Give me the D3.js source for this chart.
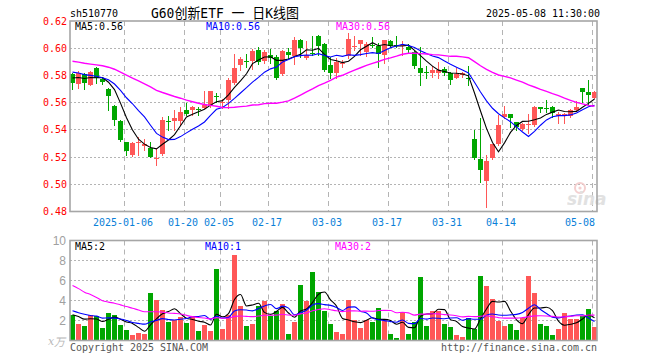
<!DOCTYPE html>
<html><head><meta charset="utf-8">
<script src="https://cdn.jsdelivr.net/npm/d3@7"></script>
<style>html,body{margin:0;padding:0;background:#fff}svg{display:block}</style>
</head><body>
<svg id="chart" width="660" height="360"></svg>
<script>
// ---------- data ----------
const dates = ["2024-12-23","2024-12-24","2024-12-25","2024-12-26","2024-12-27","2024-12-30","2024-12-31",
"2025-01-02","2025-01-03","2025-01-06","2025-01-07","2025-01-08","2025-01-09","2025-01-10",
"2025-01-13","2025-01-14","2025-01-15","2025-01-16","2025-01-17","2025-01-20","2025-01-21","2025-01-22","2025-01-23","2025-01-24","2025-01-27",
"2025-02-05","2025-02-06","2025-02-07","2025-02-10","2025-02-11","2025-02-12","2025-02-13","2025-02-14",
"2025-02-17","2025-02-18","2025-02-19","2025-02-20","2025-02-21","2025-02-24","2025-02-25","2025-02-26","2025-02-27","2025-02-28",
"2025-03-03","2025-03-04","2025-03-05","2025-03-06","2025-03-07","2025-03-10","2025-03-11","2025-03-12","2025-03-13","2025-03-14",
"2025-03-17","2025-03-18","2025-03-19","2025-03-20","2025-03-21","2025-03-24","2025-03-25","2025-03-26","2025-03-27","2025-03-28",
"2025-03-31","2025-04-01","2025-04-02","2025-04-03","2025-04-07","2025-04-08","2025-04-09","2025-04-10","2025-04-11",
"2025-04-14","2025-04-15","2025-04-16","2025-04-17","2025-04-18","2025-04-21","2025-04-22","2025-04-23","2025-04-24","2025-04-25",
"2025-04-28","2025-04-29","2025-04-30","2025-05-06","2025-05-07","2025-05-08"];

const open = [.5811,.5735,.5811,.5731,.5853,.5772,.5699,.5576,.5466,.5312,
.5216,.5305,.5282,.5270,.5189,.5221,.5468,.5466,.5466,.5547,
.5547,.5556,.5564,.5579,.5647,.5606,.5620,.5742,.5877,.5909,
.5907,.5988,.5909,.5951,.5934,.5811,.5970,.5940,.6061,.5926,
.5965,.6093,.6032,.5877,.5816,.5885,.5944,.6007,.6032,.5975,
.6026,.6017,.5951,.6054,.6026,.6022,.6012,.5975,.5858,.5823,
.5816,.5821,.5848,.5816,.5784,.5804,.5784,.5333,.5186,.5027,
.5191,.5294,.5492,.5514,.5460,.5407,.5439,.5436,.5566,.5561,
.5566,.5502,.5515,.5502,.5546,.5706,.5681,.5637];
const high = [.5816,.5829,.5821,.5829,.5860,.5784,.5706,.5584,.5473,.5314,
.5314,.5351,.5334,.5314,.5265,.5498,.5505,.5547,.5571,.5601,
.5576,.5571,.5686,.5686,.5669,.5625,.5779,.5958,.5934,.5958,
.5992,.6012,.5988,.5992,.5951,.5988,.6000,.6086,.6066,.6054,
.6091,.6098,.6037,.5939,.5926,.5914,.6110,.6091,.6061,.6049,
.6086,.6037,.6061,.6061,.6091,.6056,.6032,.5983,.6012,.5870,
.5870,.5902,.5865,.5828,.5853,.5828,.5870,.5399,.5485,.5216,
.5296,.5510,.5576,.5514,.5460,.5448,.5514,.5576,.5566,.5620,
.5576,.5534,.5522,.5551,.5613,.5706,.5767,.5686];
const low = [.5699,.5706,.5699,.5726,.5743,.5735,.5547,.5437,.5319,.5216,
.5211,.5216,.5253,.5199,.5143,.5216,.5400,.5400,.5437,.5510,
.5510,.5510,.5559,.5571,.5608,.5564,.5559,.5737,.5841,.5865,
.5845,.5885,.5890,.5890,.5772,.5804,.5926,.5882,.5939,.5921,
.5951,.5951,.5835,.5779,.5779,.5865,.5926,.5988,.5951,.5944,
.6012,.5865,.5894,.6007,.6012,.5951,.5975,.5853,.5730,.5779,
.5791,.5779,.5804,.5735,.5779,.5791,.5730,.5184,.5019,.4836,
.5184,.5289,.5485,.5424,.5399,.5399,.5375,.5429,.5534,.5534,
.5492,.5453,.5453,.5492,.5541,.5608,.5591,.5632];
const close = [.5743,.5821,.5743,.5824,.5784,.5750,.5650,.5473,.5326,.5245,
.5302,.5309,.5294,.5204,.5191,.5473,.5466,.5490,.5530,.5517,
.5571,.5554,.5584,.5682,.5645,.5608,.5767,.5858,.5921,.5907,
.5980,.5900,.5970,.5926,.5779,.5980,.5951,.6061,.6002,.5951,
.5963,.6017,.5841,.5816,.5902,.5894,.6068,.6017,.6061,.6032,
.6024,.5958,.6061,.6017,.6024,.6024,.5988,.5870,.5821,.5821,
.5841,.5841,.5821,.5767,.5809,.5816,.5772,.5191,.5105,.5171,
.5294,.5436,.5517,.5490,.5424,.5443,.5441,.5571,.5554,.5559,
.5527,.5517,.5517,.5546,.5571,.5681,.5657,.5681];
const volume = [2.57,1.63,1.50,2.57,2.47,1.30,2.77,2.57,1.57,1.07,
0.57,0.77,0.67,4.77,4.07,3.07,1.87,2.07,2.34,1.77,
2.47,0.97,1.57,0.97,7.17,1.17,2.60,8.57,3.47,1.47,
1.67,3.47,3.97,2.47,2.97,3.67,0.67,1.87,5.57,3.97,
6.87,4.87,2.97,1.67,0.87,0.67,4.07,2.07,1.27,2.07,
1.87,3.27,2.07,0.67,0.27,2.87,0.67,1.87,6.37,1.47,
2.97,2.97,1.67,1.37,0.57,0.37,2.27,1.17,6.47,5.47,
4.17,1.97,1.47,1.67,1.07,2.27,6.47,4.77,1.67,1.47,
0.57,1.17,2.77,2.17,2.17,2.47,3.17,1.37];
// estimated closes / volumes of the 29 sessions before the window (only used for the moving averages)
const priorCloses = [.600,.598,.602,.596,.594,.597,.592,.595,.593,.593,
.595,.592,.590,.594,.596,.591,.593,.590,.594,.592,
.589,.586,.588,.585,.586,.580,.578,.579,.579];
const priorVolumes = [11,12,10,11,11,7,6,6.5,6,6,5.5,6,5,4,4.5,4,3.5,4,6,6.3,
3.5,3.0,3.8,3.2,3.3,2.5,2.8,2.4,2.6];

const priceTicks = [0.62,0.60,0.58,0.56,0.54,0.52,0.50,0.48];
const volTicks = [10,8,6,4,2];
const dateTicks = ["2025-01-06","2025-01-20","2025-02-05","2025-02-17","2025-03-03","2025-03-17","2025-03-31","2025-04-14","2025-05-08"];
const dateTickLabels = ["2025-01-06","01-20","02-05","02-17","03-03","03-17","03-31","04-14","05-08"];
const maPeriods = [5,10,30];
const maColors = ["#000000","#0000ff","#ff00ff"];
const priceMaLabels = ["MA5:0.56","MA10:0.56","MA30:0.56"];
const volMaLabels = ["MA5:2","MA10:1","MA30:2"];
const symbol = "sh510770";
const title = "G60创新ETF 一 日K线图";
const stamp = "2025-05-08 11:30:00";

// ---------- setup ----------
const svg = d3.select("#chart");
const MONO = "'DejaVu Sans Mono','Liberation Mono','Noto Sans CJK SC',monospace";
const UP = "#ff5757", DOWN = "#00a600", GRID = "#b4b4b4", BORDER = "#a6a6a6";
const L = 70, R = 597;
const P = {top: 21, bottom: 211.5};
const V = {top: 240.5, bottom: 340.5};

const x = d3.scaleBand().domain(dates).range([L, R]).paddingInner(1/6).paddingOuter(0).align(0);
const y = d3.scaleLinear().domain([0.48, 0.62]).range([P.bottom, P.top]);
const vy = d3.scaleLinear().domain([0, 10]).range([V.bottom, V.top]);
const cx = d => Math.round(x(d)) + 2.5;

function txt(g, px, py, s, o = {}) {
  const cw = o.cw || 6;
  let w = 0; for (const ch of s) w += ch.charCodeAt(0) > 255 ? cw * 2 : cw;
  const t = g.append("text").attr("x", px).attr("y", py)
    .attr("text-anchor", o.anchor || "start").attr("dominant-baseline", "central")
    .attr("font-family", o.family || MONO).attr("font-size", o.size || 11)
    .attr("fill", o.fill || "#000");
  if (o.style) t.attr("font-style", o.style);
  if (o.weight) t.attr("font-weight", o.weight);
  if (!o.free) t.attr("textLength", w).attr("lengthAdjust", "spacingAndGlyphs");
  t.text(s);
  return t;
}

function movingAvg(values, prior, n) {
  const all = prior.concat(values), off = prior.length;
  return values.map((_, i) => d3.mean(all.slice(off + i - n + 1, off + i + 1)));
}

// ---------- header ----------
const head = svg.append("g");
txt(head, 70, 13, symbol);
txt(head, 151, 13, title, {size: 14, cw: 7.05});
txt(head, 600, 13, stamp, {anchor: "end"});

// ---------- grids ----------
const grid = svg.append("g");
priceTicks.slice(1, -1).forEach(t => {
  const yy = Math.floor(y(t)) + 0.5;
  grid.append("line").attr("x1", L).attr("x2", R).attr("y1", yy).attr("y2", yy)
    .attr("stroke", GRID).attr("stroke-dasharray", "2,2");
});
volTicks.slice(1).forEach(t => {
  const yy = Math.floor(vy(t)) + 0.5;
  grid.append("line").attr("x1", L).attr("x2", R).attr("y1", yy).attr("y2", yy)
    .attr("stroke", GRID).attr("stroke-dasharray", "2,2");
});
dateTicks.forEach(d => {
  const xx = Math.round(x(d)) + 0.5;
  [[P.top, P.bottom], [V.top, V.bottom]].forEach(([a, b]) => {
    grid.append("line").attr("x1", xx).attr("x2", xx).attr("y1", a).attr("y2", b)
      .attr("stroke", GRID).attr("stroke-dasharray", "5,4");
  });
});

// watermark
const wm = svg.append("g").attr("opacity", 0.9);
wm.append("circle").attr("cx", 580).attr("cy", 188).attr("r", 5).attr("fill", "none").attr("stroke", "#f3caca").attr("stroke-width", 2);
wm.append("circle").attr("cx", 580).attr("cy", 188).attr("r", 1.6).attr("fill", "#f3caca");
wm.append("text").attr("x", 567).attr("y", 205).attr("font-family", "'DejaVu Sans',sans-serif")
  .attr("font-size", 17).attr("font-style", "italic").attr("font-weight", "bold").attr("fill", "#dedede").text("sina");

// ---------- candles ----------
const candles = svg.append("g");
dates.forEach((d, i) => {
  const up = close[i] >= open[i];
  const col = up ? UP : DOWN;
  const xc = cx(d);
  candles.append("line").attr("x1", xc).attr("x2", xc)
    .attr("y1", Math.round(y(high[i]))).attr("y2", Math.round(y(low[i])) + 1)
    .attr("stroke", col).attr("stroke-width", 1);
  const yt = Math.round(y(Math.max(open[i], close[i])));
  const yb = Math.round(y(Math.min(open[i], close[i])));
  candles.append("rect").attr("x", Math.round(x(d))).attr("width", Math.round(x.bandwidth()))
    .attr("y", yt).attr("height", Math.max(1, yb - yt)).attr("fill", col);
});

// price MAs
maPeriods.forEach((n, k) => {
  const ma = movingAvg(close, priorCloses, n);
  svg.append("path").datum(ma)
    .attr("d", d3.line().x((v, i) => cx(dates[i])).y(v => y(v)))
    .attr("fill", "none").attr("stroke", maColors[k]).attr("stroke-width", n === 30 ? 1.4 : 1.1);
});

// ---------- volume ----------
const vol = svg.append("g");
dates.forEach((d, i) => {
  const col = close[i] >= open[i] ? UP : DOWN;
  const yt = Math.round(vy(volume[i]));
  vol.append("rect").attr("x", Math.round(x(d))).attr("width", Math.round(x.bandwidth()))
    .attr("y", yt).attr("height", Math.round(vy(0)) - yt).attr("fill", col);
});
maPeriods.forEach((n, k) => {
  const ma = movingAvg(volume, priorVolumes, n);
  svg.append("path").datum(ma)
    .attr("d", d3.line().curve(d3.curveMonotoneX).x((v, i) => cx(dates[i])).y(v => vy(v)))
    .attr("fill", "none").attr("stroke", maColors[k]).attr("stroke-width", 1.1);
});

// ---------- borders ----------
[[P.top, P.bottom], [V.top, V.bottom]].forEach(([a, b]) => {
  svg.append("rect").attr("x", L).attr("y", a).attr("width", R - L).attr("height", b - a)
    .attr("fill", "none").attr("stroke", BORDER).attr("stroke-width", 1.6);
});

// ---------- labels ----------
const lab = svg.append("g");
priceTicks.forEach(t => txt(lab, 67, Math.floor(y(t)) + 0.5, t.toFixed(2), {fill: "#ff0000", anchor: "end"}));
const maX = [75, 206, 336];
priceMaLabels.forEach((s, k) => txt(lab, maX[k], 26, s, {fill: maColors[k]}));
dateTicks.forEach((d, k) => {
  const s = dateTickLabels[k];
  const w = s.length * 6;
  let c = Math.round(x(d)) - 1;
  if (c + w / 2 > 595) txt(lab, 595, 222, s, {fill: "#0a80d8", anchor: "end"});
  else txt(lab, c, 222, s, {fill: "#0a80d8", anchor: "middle"});
});
volTicks.forEach(t => txt(lab, 66, Math.floor(vy(t)) + 1, String(t),
  {fill: "#a0a0a0", anchor: "end", family: "'Liberation Sans',Arial,sans-serif", size: 12, free: true}));
txt(lab, 48, 341, "x", {fill: "#b8b8b8", family: "'DejaVu Serif',serif", size: 11, style: "italic", free: true});
txt(lab, 54, 341, "万", {fill: "#b8b8b8", family: "'Noto Sans CJK SC',sans-serif", size: 11, style: "italic", free: true});
const vmaX = [75, 205, 335];
volMaLabels.forEach((s, k) => txt(lab, vmaX[k], 246, s, {fill: maColors[k]}));
txt(lab, 70, 347, "Copyright 2025 SINA.COM", {fill: "#555"});
txt(lab, 597, 347, "http://finance.sina.com.cn", {fill: "#555", anchor: "end"});
</script>
</body></html>
